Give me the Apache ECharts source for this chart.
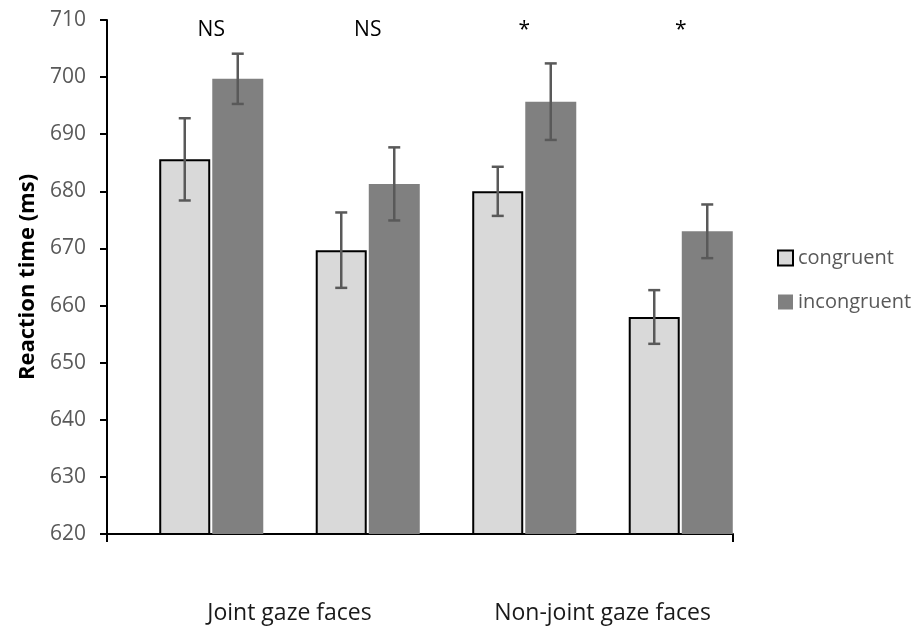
<!DOCTYPE html>
<html>
<head>
<meta charset="utf-8">
<script src="https://cdn.jsdelivr.net/npm/echarts@6/dist/echarts.min.js"></script>
<style>
  html, body { margin: 0; padding: 0; background: #fff; }
  #chart { width: 921px; height: 627px; }
</style>
</head>
<body>
<div id="chart"></div>
<script>
var conditions = ['c1', 'c2', 'c3', 'c4'];
var groupLabels = ['Joint gaze faces', 'Non-joint gaze faces'];
var congruent = [685.6, 669.7, 680.0, 658.0];
var incongruent = [699.7, 681.3, 695.7, 673.0];
var congruentErr = [7.2, 6.6, 4.3, 4.7];
var incongruentErr = [4.4, 6.4, 6.7, 4.7];
var annotations = ['NS', 'NS', '*', '*'];
var annotationLevel = 708.2;

var font = 'Open Sans';

function errData(vals, errs) {
    return vals.map(function (v, i) { return [i, v - errs[i], v + errs[i]]; });
}

function errRender(offset) {
    return function (params, api) {
        var lo = api.coord([api.value(0), api.value(1)]);
        var hi = api.coord([api.value(0), api.value(2)]);
        var x = lo[0] + offset;
        var st = { stroke: '#595959', lineWidth: 2.5 };
        return {
            type: 'group',
            children: [
                { type: 'line', shape: { x1: x, y1: lo[1], x2: x, y2: hi[1] }, style: st },
                { type: 'line', shape: { x1: x - 6, y1: lo[1], x2: x + 6, y2: lo[1] }, style: st },
                { type: 'line', shape: { x1: x - 6, y1: hi[1], x2: x + 6, y2: hi[1] }, style: st }
            ]
        };
    };
}

var myChart = echarts.init(document.getElementById('chart'));
var option = {
    animation: false,
    textStyle: { fontFamily: font },
    legend: {
        orient: 'vertical',
        left: 772,
        top: 243,
        itemWidth: 15,
        itemHeight: 15,
        itemGap: 24,
        icon: 'rect',
        textStyle: { fontSize: 20, color: '#595959', fontFamily: font, lineHeight: 20 },
        data: ['congruent', 'incongruent']
    },
    grid: [
        { left: 107, right: 188, top: 20, bottom: 93 },
        { left: 133, right: 162, top: 20, bottom: 93 }
    ],
    xAxis: [
        {
            type: 'category', gridIndex: 0, data: [''],
            axisLine: { lineStyle: { color: '#000', width: 2 } },
            axisTick: { show: true, length: 8, lineStyle: { color: '#000', width: 2 } },
            axisLabel: { show: false }
        },
        {
            type: 'category', gridIndex: 1, data: conditions,
            axisLine: { show: false }, axisTick: { show: false }, axisLabel: { show: false }
        },
        {
            type: 'category', gridIndex: 1, data: groupLabels, position: 'bottom',
            axisLine: { show: false }, axisTick: { show: false },
            axisLabel: { margin: 68, fontSize: 23, color: '#1a1a1a', fontFamily: font }
        }
    ],
    yAxis: [
        {
            type: 'value', gridIndex: 0, min: 620, max: 710, interval: 10,
            name: 'Reaction time (ms)', nameLocation: 'middle', nameGap: 66,
            nameTextStyle: { fontSize: 22, fontWeight: 'bold', color: '#000', fontFamily: font },
            axisLine: { show: true, lineStyle: { color: '#000', width: 2 } },
            axisTick: { show: true, length: 7, lineStyle: { color: '#000', width: 2 } },
            axisLabel: { fontSize: 21, color: '#595959', margin: 21, fontFamily: font },
            splitLine: { show: false }
        },
        {
            type: 'value', gridIndex: 1, min: 620, max: 710, interval: 10, show: false
        }
    ],
    series: [
        {
            name: 'congruent', type: 'bar', xAxisIndex: 1, yAxisIndex: 1,
            data: congruent, barWidth: 51, barGap: '4%',
            itemStyle: { color: '#d9d9d9', borderColor: '#000', borderWidth: 2 }
        },
        {
            name: 'incongruent', type: 'bar', xAxisIndex: 1, yAxisIndex: 1,
            data: incongruent, barWidth: 51, barGap: '4%',
            itemStyle: { color: '#808080' }
        },
        {
            type: 'custom', xAxisIndex: 1, yAxisIndex: 1,
            data: errData(congruent, congruentErr), renderItem: errRender(-26.5), z: 5
        },
        {
            type: 'custom', xAxisIndex: 1, yAxisIndex: 1,
            data: errData(incongruent, incongruentErr), renderItem: errRender(26.5), z: 5
        },
        {
            type: 'custom', xAxisIndex: 1, yAxisIndex: 1,
            data: annotations.map(function (a, i) { return [i, annotationLevel]; }),
            renderItem: function (params, api) {
                var p = api.coord([api.value(0), api.value(1)]);
                return {
                    type: 'text',
                    style: {
                        text: annotations[params.dataIndex], x: p[0], y: p[1],
                        align: 'center', verticalAlign: 'middle',
                        fontSize: 21, fontFamily: font, fill: '#000'
                    }
                };
            }
        }
    ]
};
myChart.setOption(option);
</script>
</body>
</html>
